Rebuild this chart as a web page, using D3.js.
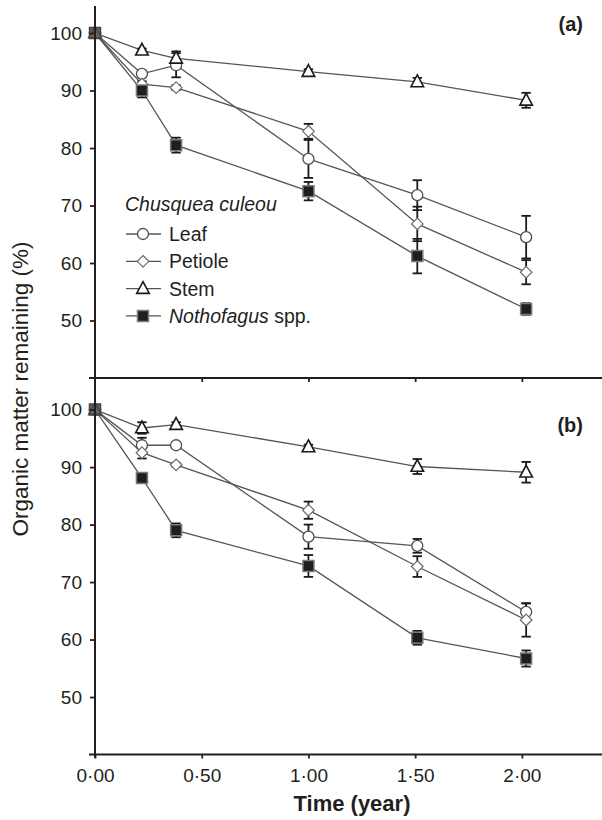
<!DOCTYPE html>
<html>
<head>
<meta charset="utf-8">
<script src="https://cdn.jsdelivr.net/npm/d3@7"></script>
<style>
  body { margin: 0; background: #fff; }
  svg text { font-family: "Liberation Sans", Arial, sans-serif; fill: #231f20; }
</style>
</head>
<body>
<svg id="chart" width="602" height="820"></svg>
<script>
// sampling times (year)
var times = [0, 0.22, 0.38, 1.0, 1.51, 2.02];
var xTicks = [0, 0.5, 1, 1.5, 2];
var yTicks = [50, 60, 70, 80, 90, 100];

// panel (a)
var leafA = [100, 92.9, 94.4, 78.1, 71.8, 64.5];
var leafAErr = [0, 0.5, 2.1, 3.3, 2.6, 3.7];
var petioleA = [100, 91.1, 90.5, 82.9, 66.8, 58.4];
var petioleAErr = [0, 0.5, 0.4, 1.3, 3.0, 2.1];
var stemA = [100, 97.0, 95.6, 93.3, 91.5, 88.3];
var stemAErr = [0, 0.3, 1.2, 0.4, 0.7, 1.3];
var nothA = [100, 90.0, 80.5, 72.5, 61.2, 52.0];
var nothAErr = [0, 1.2, 1.3, 1.6, 3.0, 1.0];

// panel (b)
var leafB = [100, 93.8, 93.8, 77.9, 76.3, 64.8];
var leafBErr = [0, 1.3, 0.5, 2.1, 1.2, 1.5];
var petioleB = [100, 92.5, 90.4, 82.5, 72.7, 63.4];
var petioleBErr = [0, 1.0, 0.3, 1.5, 1.8, 2.9];
var stemB = [100, 96.8, 97.4, 93.5, 90.1, 89.1];
var stemBErr = [0, 1.0, 0.4, 0.4, 1.3, 1.8];
var nothB = [100, 88.1, 79.0, 72.8, 60.3, 56.7];
var nothBErr = [0, 0.4, 1.2, 1.9, 1.2, 1.4];

var legendNames = ["Leaf", "Petiole", "Stem", "Nothofagus"];

var svg = d3.select("#chart");

var x = d3.scaleLinear().domain([0, 2.366]).range([95, 600]);
var yA = d3.scaleLinear().domain([40, 104.7]).range([378, 6]);
var yB = d3.scaleLinear().domain([40, 105.5]).range([754.5, 378]);

// custom marker shapes
var diamond = { draw: function (c) { var r = 5.8; c.moveTo(0, -r); c.lineTo(r, 0); c.lineTo(0, r); c.lineTo(-r, 0); c.closePath(); } };
var triangle = { draw: function (c) { c.moveTo(0, -7); c.lineTo(6.3, 4.8); c.lineTo(-6.3, 4.8); c.closePath(); } };
var square = { draw: function (c) { c.rect(-5.5, -5.5, 11, 11); } };
var circle = { draw: function (c) { c.moveTo(5.5, 0); c.arc(0, 0, 5.5, 0, 2 * Math.PI); } };

var styles = {
  Leaf:       { shape: circle,   fill: "#fff",    stroke: "#4d4d4d", sw: 1.3 },
  Petiole:    { shape: diamond,  fill: "#fff",    stroke: "#6d6d6d", sw: 1.2 },
  Stem:       { shape: triangle, fill: "#fff",    stroke: "#1a1a1a", sw: 1.6 },
  Nothofagus: { shape: square,   fill: "#1e1e1e", stroke: "#7a7a7a", sw: 1.5 }
};

function drawPanel(y, series, label, labelY) {
  var g = svg.append("g");
  var line = d3.line().x(function (d) { return x(d.t); }).y(function (d) { return y(d.v); });

  series.forEach(function (s) {
    s.pts = times.map(function (t, i) { return { t: t, v: s.vals[i], e: s.errs[i] }; });
  });

  // connecting lines
  series.forEach(function (s) {
    g.append("path").datum(s.pts).attr("d", line)
      .attr("fill", "none").attr("stroke", "#555").attr("stroke-width", 1.3);
  });

  // error bars
  series.forEach(function (s) {
    var eb = g.selectAll(null).data(s.pts.filter(function (d) { return d.e > 0; })).enter().append("g")
      .attr("stroke", "#1a1a1a").attr("stroke-width", 1.8);
    eb.append("line").attr("x1", function (d) { return x(d.t); }).attr("x2", function (d) { return x(d.t); })
      .attr("y1", function (d) { return y(d.v + d.e); }).attr("y2", function (d) { return y(d.v - d.e); });
    [1, -1].forEach(function (sign) {
      eb.append("line").attr("x1", function (d) { return x(d.t) - 4.7; }).attr("x2", function (d) { return x(d.t) + 4.7; })
        .attr("y1", function (d) { return y(d.v + sign * d.e); }).attr("y2", function (d) { return y(d.v + sign * d.e); });
    });
  });

  // markers
  series.forEach(function (s) {
    var st = styles[s.name];
    g.selectAll(null).data(s.pts).enter().append("path")
      .attr("d", d3.symbol().type(st.shape))
      .attr("transform", function (d) { return "translate(" + x(d.t) + "," + y(d.v) + ")"; })
      .attr("fill", function (d, i) { return i == 0 ? "#666" : st.fill; })
      .attr("stroke", function (d, i) { return i == 0 ? "#444" : st.stroke; })
      .attr("stroke-width", st.sw);
  });

  // y axis
  var ax = g.append("g").attr("transform", "translate(95,0)")
    .call(d3.axisLeft(y).tickValues(yTicks).tickSize(5).tickPadding(8).tickFormat(d3.format("d")));
  ax.select(".domain").remove();
  ax.selectAll("line").attr("stroke", "#231f20").attr("stroke-width", 1.8);
  ax.selectAll("text").style("font-size", "19px").attr("fill", "#231f20");

  g.append("text").attr("x", 583).attr("y", labelY).attr("text-anchor", "end")
    .style("font-size", "20px").style("font-weight", "bold").text(label);
}

drawPanel(yA, [
  { name: "Leaf", vals: leafA, errs: leafAErr },
  { name: "Petiole", vals: petioleA, errs: petioleAErr },
  { name: "Nothofagus", vals: nothA, errs: nothAErr },
  { name: "Stem", vals: stemA, errs: stemAErr }
], "(a)", 31);

drawPanel(yB, [
  { name: "Leaf", vals: leafB, errs: leafBErr },
  { name: "Petiole", vals: petioleB, errs: petioleBErr },
  { name: "Nothofagus", vals: nothB, errs: nothBErr },
  { name: "Stem", vals: stemB, errs: stemBErr }
], "(b)", 432);

// vertical axis line through both panels
svg.append("line").attr("x1", 95).attr("x2", 95).attr("y1", 6).attr("y2", 758)
  .attr("stroke", "#231f20").attr("stroke-width", 2);

// middle axis (panel a bottom), ticks without labels
var mid = svg.append("g").attr("transform", "translate(0,378)")
  .call(d3.axisBottom(x).tickValues(xTicks.slice(1)).tickSize(4).tickFormat(""));
mid.select(".domain").remove();
mid.selectAll("line").attr("stroke", "#231f20").attr("stroke-width", 1.8);
svg.append("line").attr("x1", 89).attr("x2", 602).attr("y1", 378).attr("y2", 378)
  .attr("stroke", "#231f20").attr("stroke-width", 2);

// bottom axis
var bot = svg.append("g").attr("transform", "translate(0,754.5)")
  .call(d3.axisBottom(x).tickValues(xTicks).tickSize(4).tickPadding(10)
    .tickFormat(function (d) { return d3.format(".2f")(d).replace(".", "\u00b7"); }));
bot.select(".domain").remove();
bot.selectAll("line").attr("stroke", "#231f20").attr("stroke-width", 1.8);
bot.selectAll("text").style("font-size", "19px").attr("fill", "#231f20");
svg.append("line").attr("x1", 89).attr("x2", 602).attr("y1", 754.5).attr("y2", 754.5)
  .attr("stroke", "#231f20").attr("stroke-width", 2);

// axis titles
svg.append("text").attr("x", 352).attr("y", 811).attr("text-anchor", "middle")
  .style("font-size", "22px").style("font-weight", "bold").text("Time (year)");
svg.append("text").attr("transform", "translate(28,389) rotate(-90)").attr("text-anchor", "middle")
  .style("font-size", "22.5px").text("Organic matter remaining (%)");

// legend
var leg = svg.append("g");
leg.append("text").attr("x", 125).attr("y", 211).style("font-size", "19.5px").style("font-style", "italic")
  .text("Chusquea culeou");
legendNames.forEach(function (n, i) {
  var st = styles[n];
  var cy = 234 + i * 27.3;
  leg.append("line").attr("x1", 126).attr("x2", 161).attr("y1", cy).attr("y2", cy)
    .attr("stroke", "#555").attr("stroke-width", 1.3);
  leg.append("path").attr("d", d3.symbol().type(st.shape)).attr("transform", "translate(143," + cy + ")")
    .attr("fill", st.fill).attr("stroke", st.stroke).attr("stroke-width", st.sw);
  var t = leg.append("text").attr("x", 169).attr("y", cy + 7).style("font-size", "19.5px");
  if (n == "Nothofagus") {
    t.append("tspan").style("font-style", "italic").text("Nothofagus");
    t.append("tspan").text(" spp.");
  } else {
    t.text(n);
  }
});
</script>
</body>
</html>
